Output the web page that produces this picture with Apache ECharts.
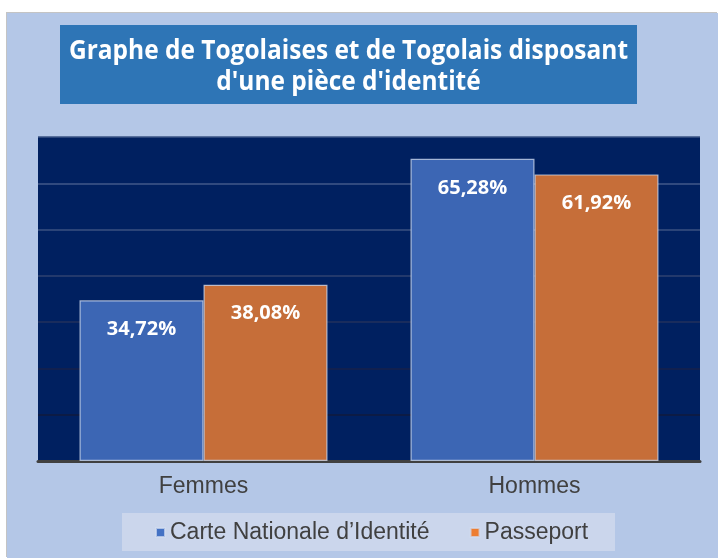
<!DOCTYPE html>
<html>
<head>
<meta charset="utf-8">
<script src="https://cdn.jsdelivr.net/npm/echarts@6/dist/echarts.min.js"></script>
<style>
html, body { margin: 0; padding: 0; background: #fff; }
#root { position: absolute; left: 7px; top: 13px; width: 711px; height: 545px; box-shadow: -1px -1px 0 #c4c4c4; }
</style>
</head>
<body>
<div id="root"></div>
<script>
const categories = ['Femmes', 'Hommes'];
const seriesNames = ['Carte Nationale d’Identité', 'Passeport'];
const carteValues = [34.72, 65.28];
const passeportValues = [38.08, 61.92];
const titleLines = ['Graphe de Togolaises et de Togolais disposant', "d'une pièce d'identité"];

const container = document.getElementById('root');
const myChart = echarts.init(container);

// squeeze the title font so it looks like the narrow original
const TITLE_FONT = 'bold 26px "Open Sans"';
const ctx = document.createElement('canvas').getContext('2d');
ctx.font = TITLE_FONT;
const titleScale = 559 / ctx.measureText(titleLines[0]).width;

const fmt = v => v.toFixed(2).replace('.', ',') + '%';

const barSerie = (name, data, color) => ({
  name,
  type: 'bar',
  data,
  barWidth: 124,
  barGap: '0%',
  itemStyle: {
    color,
    borderColor: 'rgba(210,220,240,0.75)',
    borderWidth: 1.2
  },
  label: {
    show: true,
    position: 'insideTop',
    distance: 17,
    color: '#fff',
    fontFamily: 'Open Sans',
    fontWeight: 'bold',
    fontSize: 20,
    lineHeight: 24,
    formatter: p => fmt(p.value)
  }
});

const titleText = (text, y) => ({
  type: 'text',
  x: 341.5,
  y,
  scaleX: titleScale,
  style: {
    text,
    fill: '#fff',
    font: TITLE_FONT,
    align: 'center',
    textAlign: 'center',
    verticalAlign: 'middle',
    textVerticalAlign: 'middle'
  }
});

const option = {
  backgroundColor: '#b4c7e7',
  animation: false,
  graphic: [
    { type: 'rect', shape: { x: 53, y: 12, width: 577, height: 79 }, style: { fill: '#2e75b6' } },
    titleText(titleLines[0], 39),
    titleText(titleLines[1], 70),
    { type: 'rect', shape: { x: 115, y: 500, width: 493, height: 38 }, style: { fill: '#cbd6ec' } }
  ],
  legend: {
    data: [
      { name: seriesNames[0], itemStyle: { color: '#4472c4' } },
      { name: seriesNames[1], itemStyle: { color: '#ed7d31' } }
    ],
    left: 148,
    top: 508,
    padding: 0,
    icon: 'rect',
    itemWidth: 9,
    itemHeight: 9,
    itemGap: 40,
    textStyle: {
      color: '#404040',
      fontFamily: 'Liberation Sans',
      fontSize: 23
    }
  },
  grid: {
    left: 31,
    right: 18,
    top: 124,
    bottom: 97,
    show: true,
    backgroundColor: '#002060',
    borderWidth: 0
  },
  xAxis: {
    type: 'category',
    data: categories,
    axisLine: { lineStyle: { color: '#404040', width: 3 } },
    axisTick: { show: false },
    axisLabel: {
      color: '#404040',
      fontFamily: 'Liberation Sans',
      fontSize: 23,
      margin: 14
    }
  },
  yAxis: {
    type: 'value',
    min: 0,
    max: 70,
    interval: 10,
    axisLabel: { show: false },
    axisLine: { show: false },
    axisTick: { show: false },
    splitLine: {
      lineStyle: {
        width: 1.5,
        color: ['#0f1a40', '#111a3c', '#17214a', '#22305c', '#2f4270', '#3a5080', '#42598a', '#3a5385']
      }
    }
  },
  series: [
    barSerie(seriesNames[0], carteValues, '#3c66b4'),
    barSerie(seriesNames[1], passeportValues, '#c66e39')
  ]
};

myChart.setOption(option);

window.onresize = () => myChart.resize();
</script>
</body>
</html>
